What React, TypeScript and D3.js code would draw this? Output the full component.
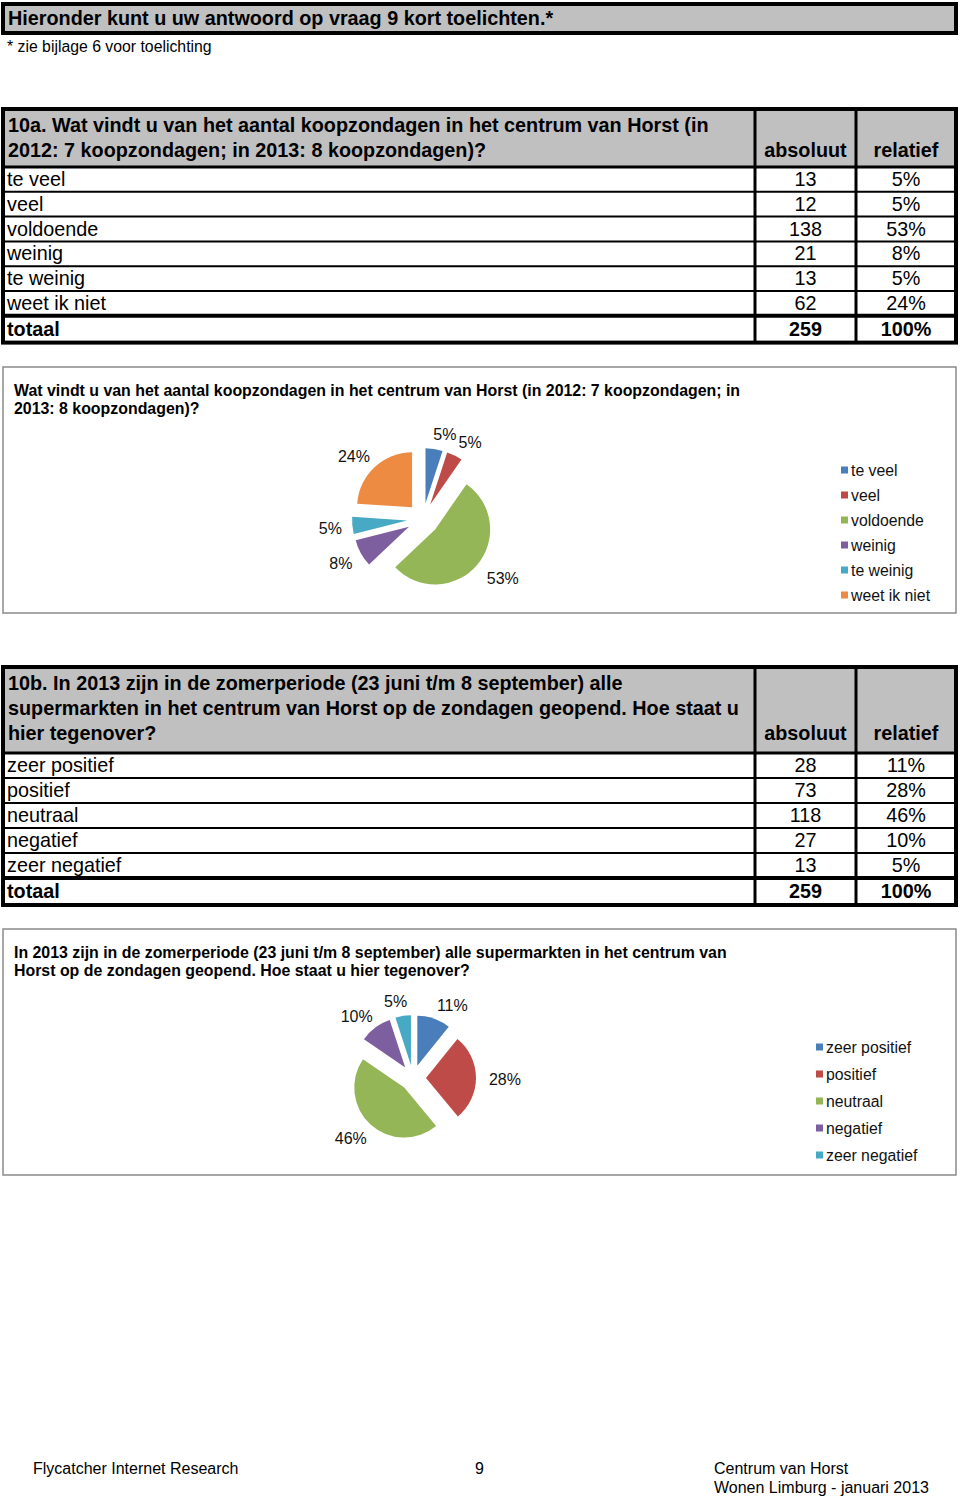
import React from 'react';
import * as d3 from 'd3';

const FONT = '"Liberation Sans", Arial, Helvetica, sans-serif';

const pageTitle = 'Hieronder kunt u uw antwoord op vraag 9 kort toelichten.*';
const pageNote = '* zie bijlage 6 voor toelichting';

const q10aHeader = [
  '10a. Wat vindt u van het aantal koopzondagen in het centrum van Horst (in',
  '2012: 7 koopzondagen; in 2013: 8 koopzondagen)?',
];
const q10aCategories = ['te veel', 'veel', 'voldoende', 'weinig', 'te weinig', 'weet ik niet'];
const q10aAbsolute = [13, 12, 138, 21, 13, 62];
const q10aRelative = ['5%', '5%', '53%', '8%', '5%', '24%'];
const q10aTotal = ['259', '100%'];
const q10aChartTitle = [
  'Wat vindt u van het aantal koopzondagen in het centrum van Horst  (in 2012: 7 koopzondagen; in',
  '2013: 8 koopzondagen)?',
];
const q10aColors = ['#4A7EBB', '#BE4B48', '#94B656', '#7D5FA0', '#48A9C4', '#EE8B43'];

const q10bHeader = [
  '10b. In 2013 zijn in de zomerperiode (23 juni t/m 8 september) alle',
  'supermarkten in het centrum van Horst op de zondagen geopend. Hoe staat u',
  'hier tegenover?',
];
const q10bCategories = ['zeer positief', 'positief', 'neutraal', 'negatief', 'zeer negatief'];
const q10bAbsolute = [28, 73, 118, 27, 13];
const q10bRelative = ['11%', '28%', '46%', '10%', '5%'];
const q10bTotal = ['259', '100%'];
const q10bChartTitle = [
  'In 2013 zijn in de zomerperiode (23 juni t/m 8 september) alle supermarkten in het centrum van',
  'Horst op de zondagen geopend. Hoe staat u hier tegenover?',
];
const q10bColors = ['#4A7EBB', '#BE4B48', '#94B656', '#7D5FA0', '#48A9C4'];

const colHeaders = ['absoluut', 'relatief'];
const totalLabel = 'totaal';

const footerLeft = 'Flycatcher Internet Research';
const footerMid = '9';
const footerRight = ['Centrum van Horst', 'Wonen Limburg - januari 2013'];

const X0 = 3;
const C1 = 755;
const C2 = 856;
const X3 = 956;
const BOLD = 19.8;

type TableProps = {
  top: number;
  headerH: number;
  rowH: number;
  header: string[];
  cats: string[];
  abs: number[];
  rel: string[];
  total: string[];
};

function Table({ top, headerH, rowH, header, cats, abs, rel, total }: TableProps) {
  const hb = top + headerH;
  const rowTop = (i: number) => hb + i * rowH;
  const totTop = rowTop(cats.length);
  const bottom = totTop + rowH + 2;
  const absX = (C1 + C2) / 2;
  const relX = (C2 + X3) / 2;
  const lastBase = top + 23 + (header.length - 1) * 25;
  return (
    <g fontFamily={FONT} fill="#000">
      <rect x={X0} y={top} width={X3 - X0} height={headerH} fill="#C0C0C0" />
      <rect x={X0} y={hb} width={X3 - X0} height={bottom - hb} fill="#fff" />
      {header.map((l, i) => (
        <text key={i} x={8} y={top + 23 + i * 25} fontSize={BOLD} fontWeight="bold">{l}</text>
      ))}
      <text x={absX} y={lastBase} fontSize={BOLD} fontWeight="bold" textAnchor="middle">{colHeaders[0]}</text>
      <text x={relX} y={lastBase} fontSize={BOLD} fontWeight="bold" textAnchor="middle">{colHeaders[1]}</text>
      {cats.map((c, i) => (
        <g key={c}>
          <text x={7} y={rowTop(i) + 19} fontSize={19.8}>{c}</text>
          <text x={absX} y={rowTop(i) + 19} fontSize={19.8} textAnchor="middle">{abs[i]}</text>
          <text x={relX} y={rowTop(i) + 19} fontSize={19.8} textAnchor="middle">{rel[i]}</text>
          {i > 0 && <line x1={X0} x2={X3} y1={rowTop(i)} y2={rowTop(i)} stroke="#000" strokeWidth={2} />}
        </g>
      ))}
      <text x={7} y={totTop + 20} fontSize={BOLD} fontWeight="bold">{totalLabel}</text>
      <text x={absX} y={totTop + 20} fontSize={BOLD} fontWeight="bold" textAnchor="middle">{total[0]}</text>
      <text x={relX} y={totTop + 20} fontSize={BOLD} fontWeight="bold" textAnchor="middle">{total[1]}</text>
      <line x1={X0} x2={X3} y1={hb} y2={hb} stroke="#000" strokeWidth={3} />
      <line x1={X0} x2={X3} y1={totTop} y2={totTop} stroke="#000" strokeWidth={4} />
      <line x1={C1} x2={C1} y1={top} y2={bottom} stroke="#000" strokeWidth={3} />
      <line x1={C2} x2={C2} y1={top} y2={bottom} stroke="#000" strokeWidth={3} />
      <rect x={X0} y={top} width={X3 - X0} height={bottom - top} fill="none" stroke="#000" strokeWidth={4} />
    </g>
  );
}

type PieProps = {
  cx: number;
  cy: number;
  r: number;
  explode: number;
  labelR: number;
  values: number[];
  rel: string[];
  colors: string[];
};

function Pie({ cx, cy, r, explode, labelR, values, rel, colors }: PieProps) {
  const arcs = d3.pie<number>().sort(null).value((d) => d)(values);
  const arcGen = d3.arc<d3.PieArcDatum<number>>().innerRadius(0).outerRadius(r);
  return (
    <g transform={`translate(${cx},${cy})`} fontFamily={FONT}>
      {arcs.map((a, i) => {
        const mid = (a.startAngle + a.endAngle) / 2;
        const dx = Math.sin(mid) * explode;
        const dy = -Math.cos(mid) * explode;
        return (
          <path key={i} d={arcGen(a) || ''} transform={`translate(${dx},${dy})`} fill={colors[i]} />
        );
      })}
      {arcs.map((a, i) => {
        const mid = (a.startAngle + a.endAngle) / 2;
        const ux = Math.sin(mid);
        const uy = -Math.cos(mid);
        const shift = ux > 0 ? rel[i].length * 5 - 2 : -(rel[i].length * 4 - 3);
        return (
          <text
            key={'l' + i}
            x={ux * labelR + shift}
            y={uy * labelR + 2}
            fontSize={16}
            textAnchor="middle"
            dominantBaseline="central"
            fill="#111"
          >
            {rel[i]}
          </text>
        );
      })}
    </g>
  );
}

function Legend({ x, y, step, cats, colors }: { x: number; y: number; step: number; cats: string[]; colors: string[] }) {
  return (
    <g fontFamily={FONT}>
      {cats.map((c, i) => (
        <g key={c}>
          <rect x={x} y={y + i * step - 3.5} width={7} height={7} fill={colors[i]} />
          <text x={x + 10} y={y + i * step} fontSize={15.8} dominantBaseline="central" fill="#111">{c}</text>
        </g>
      ))}
    </g>
  );
}

function ChartBox({ top, height, title }: { top: number; height: number; title: string[] }) {
  return (
    <g fontFamily={FONT}>
      <rect x={X0} y={top} width={X3 - X0} height={height} fill="#fff" stroke="#8a8a8a" strokeWidth={1.5} />
      {title.map((l, i) => (
        <text key={i} x={14} y={top + 29 + i * 18} fontSize={15.9} fontWeight="bold">{l}</text>
      ))}
    </g>
  );
}

export default function App() {
  return (
    <svg
      width={960}
      height={1497}
      style={{ position: 'absolute', left: 0, top: 0, background: '#fff' }}
    >
      <rect x={0} y={0} width={960} height={1497} fill="#fff" />
      <rect x={X0} y={4} width={X3 - X0} height={29} fill="#C0C0C0" stroke="#000" strokeWidth={4} />
      <text x={8} y={25} fontFamily={FONT} fontSize={BOLD} fontWeight="bold">{pageTitle}</text>
      <text x={7} y={52} fontFamily={FONT} fontSize={15.8}>{pageNote}</text>

      <Table
        top={109}
        headerH={58}
        rowH={24.8}
        header={q10aHeader}
        cats={q10aCategories}
        abs={q10aAbsolute}
        rel={q10aRelative}
        total={q10aTotal}
      />

      <ChartBox top={367} height={246} title={q10aChartTitle} />
      <Pie cx={423} cy={519} r={55} explode={16} labelR={88} values={q10aAbsolute} rel={q10aRelative} colors={q10aColors} />
      <Legend x={841} y={470} step={25} cats={q10aCategories} colors={q10aColors} />

      <Table
        top={667}
        headerH={86}
        rowH={25}
        header={q10bHeader}
        cats={q10bCategories}
        abs={q10bAbsolute}
        rel={q10bRelative}
        total={q10bTotal}
      />

      <ChartBox top={929} height={246} title={q10bChartTitle} />
      <Pie cx={413} cy={1078} r={50} explode={13} labelR={79} values={q10bAbsolute} rel={q10bRelative} colors={q10bColors} />
      <Legend x={816} y={1047} step={27} cats={q10bCategories} colors={q10bColors} />

      <g fontFamily={FONT} fontSize={16} fill="#000">
        <text x={33} y={1474}>{footerLeft}</text>
        <text x={475} y={1474}>{footerMid}</text>
        <text x={714} y={1474}>{footerRight[0]}</text>
        <text x={714} y={1493}>{footerRight[1]}</text>
      </g>
    </svg>
  );
}
